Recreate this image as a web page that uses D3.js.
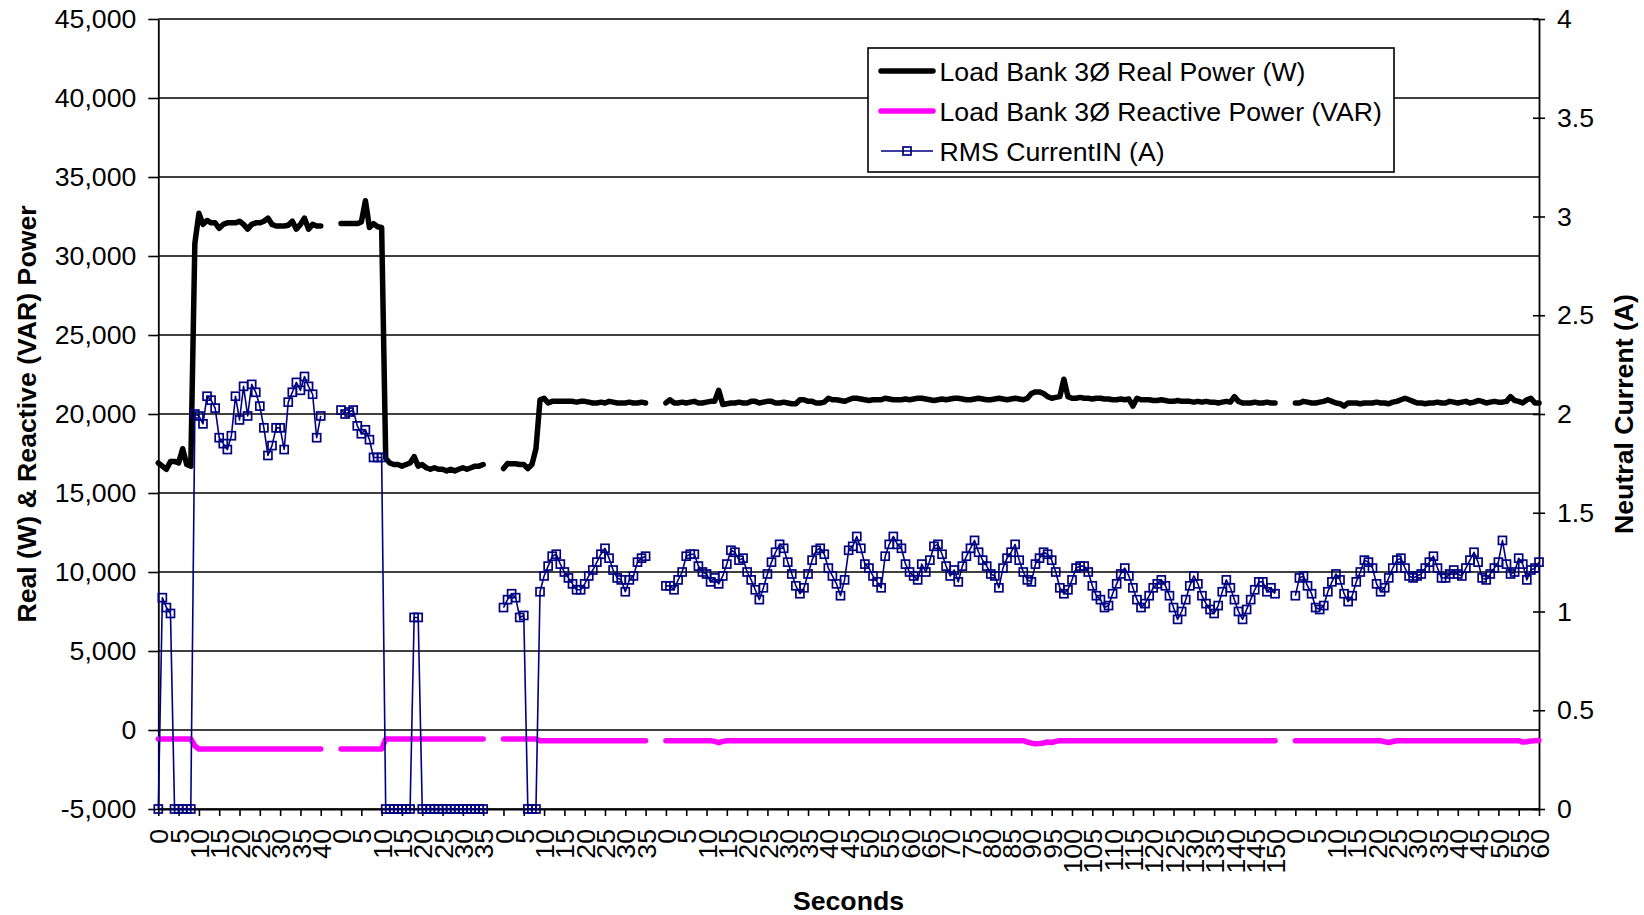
<!DOCTYPE html>
<html>
<head>
<meta charset="utf-8">
<script src="https://cdn.jsdelivr.net/npm/d3@7"></script>
<style>
  body { margin: 0; background: #ffffff; }
  svg { display: block; }
</style>
</head>
<body>
<svg id="chart" width="1644" height="915"></svg>
<script>
// ---------------- DATA ----------------
// Five test runs; seconds counted from 0 inside each run, 4 empty categories between runs
const runLengths = [41, 36, 36, 151, 61];
const gapLength = 4;

const tickLabels = ["0","5","10","15","20","25","30","35","40",
  "0","5","10","15","20","25","30","35",
  "0","5","10","15","20","25","30","35",
  "0","5","10","15","20","25","30","35","40","45","50","55","60","65","70","75","80","85","90","95","100","105","110","115","120","125","130","135","140","145","150",
  "0","5","10","15","20","25","30","35","40","45","50","55","60"];

const leftTicks = [-5000, 0, 5000, 10000, 15000, 20000, 25000, 30000, 35000, 40000, 45000];
const rightTicks = [0, 0.5, 1, 1.5, 2, 2.5, 3, 3.5, 4];

const seriesNames = ["Load Bank 3\u00D8 Real Power (W)", "Load Bank 3\u00D8 Reactive Power (VAR)", "RMS CurrentIN (A)"];

// Load Bank 3Ø Real Power (W)
const realPowerRun1 = [16900,16700,16500,17000,17000,16900,17800,16800,16700,30800,
  32700,32000,32250,32100,32100,31750,32000,32100,32100,32100,
  32200,32000,31700,32000,32100,32100,32200,32400,32000,31900,
  31900,31900,31950,32200,31700,32000,32400,31700,32000,31900,
  31900];
const realPowerRun2 = [32050,32050,32050,32050,32050,32150,33500,31800,32050,31850,
  31800,17200,16900,16800,16800,16700,16800,16900,17300,16700,
  16800,16600,16500,16600,16500,16500,16400,16500,16400,16500,
  16600,16500,16600,16700,16700,16800];
const realPowerRun3 = [16550,16870,16850,16850,16800,16800,16550,16800,17800,20900,
  21000,20700,20800,20800,20800,20800,20800,20800,20750,20800,
  20800,20750,20700,20700,20750,20700,20800,20750,20700,20700,
  20700,20750,20700,20700,20750,20700];
const realPowerRun4 = [20700,20900,20700,20700,20750,20700,20750,20800,20700,20700,
  20750,20800,20800,21500,20600,20650,20700,20700,20750,20700,
  20700,20800,20800,20700,20750,20800,20800,20700,20700,20750,
  20700,20650,20650,20900,20900,20800,20800,20700,20700,20750,
  21000,20900,20900,20850,20800,20900,21000,21000,20950,20900,
  20850,20900,20900,20900,21000,20950,20900,20900,20900,20950,
  20900,20950,21000,21000,20950,20900,20850,20900,20950,20900,
  20950,21000,21000,20950,20900,20900,20950,21000,20950,20900,
  20900,20950,21000,20950,20900,20950,21000,20950,20900,21000,
  21300,21400,21400,21300,21100,21000,21050,21100,22200,21100,
  21000,21000,21050,21000,21000,20950,21000,21000,20950,20950,
  20900,20900,20950,20900,20950,20500,21000,20900,20900,20900,
  20850,20850,20900,20850,20800,20800,20850,20800,20800,20800,
  20750,20800,20750,20800,20750,20750,20700,20750,20800,20750,
  21100,20800,20700,20700,20700,20750,20700,20700,20750,20700,
  20700];
const realPowerRun5 = [20700,20700,20800,20750,20700,20700,20750,20800,20900,20800,
  20700,20650,20500,20700,20700,20700,20650,20700,20700,20700,
  20750,20700,20700,20650,20750,20800,20900,21000,20900,20800,
  20700,20700,20650,20700,20700,20750,20700,20700,20800,20750,
  20700,20750,20800,20700,20750,20850,20800,20700,20750,20800,
  20750,20750,20800,21100,20850,20800,20700,20900,21000,20700,
  20700];

// Load Bank 3Ø Reactive Power (VAR)
const reactivePowerRun1 = [-570,-570,-570,-570,-570,-570,-570,-570,-570,-1000,
  -1200,-1200,-1200,-1200,-1200,-1200,-1200,-1200,-1200,-1200,
  -1200,-1200,-1200,-1200,-1200,-1200,-1200,-1200,-1200,-1200,
  -1200,-1200,-1200,-1200,-1200,-1200,-1200,-1200,-1200,-1200,
  -1200];
const reactivePowerRun2 = [-1200,-1200,-1200,-1200,-1200,-1200,-1200,-1200,-1200,-1200,
  -1200,-570,-570,-570,-570,-570,-570,-570,-570,-570,
  -570,-570,-570,-570,-570,-570,-570,-570,-570,-570,
  -570,-570,-570,-570,-570,-570];
const reactivePowerRun3 = [-570,-570,-570,-570,-570,-570,-570,-570,-570,-680,
  -680,-680,-680,-680,-680,-680,-680,-680,-680,-680,
  -680,-680,-680,-680,-680,-680,-680,-680,-680,-680,
  -680,-680,-680,-680,-680,-680];
const reactivePowerRun4 = [-680,-680,-680,-680,-680,-680,-680,-680,-680,-680,
  -680,-680,-720,-800,-720,-680,-680,-680,-680,-680,
  -680,-680,-680,-680,-680,-680,-680,-680,-680,-680,
  -680,-680,-680,-680,-680,-680,-680,-680,-680,-680,
  -680,-680,-680,-680,-680,-680,-680,-680,-680,-680,
  -680,-680,-680,-680,-680,-680,-680,-680,-680,-680,
  -680,-680,-680,-680,-680,-680,-680,-680,-680,-680,
  -680,-680,-680,-680,-680,-680,-680,-680,-680,-680,
  -680,-680,-680,-680,-680,-680,-680,-680,-680,-760,
  -830,-870,-860,-820,-760,-790,-720,-680,-680,-680,
  -680,-680,-680,-680,-680,-680,-680,-680,-680,-680,
  -680,-680,-680,-680,-680,-680,-680,-680,-680,-680,
  -680,-680,-680,-680,-680,-680,-680,-680,-680,-680,
  -680,-680,-680,-680,-680,-680,-680,-680,-680,-680,
  -680,-680,-680,-680,-680,-680,-680,-680,-680,-680,
  -680];
const reactivePowerRun5 = [-680,-680,-680,-680,-680,-680,-680,-680,-680,-680,
  -680,-680,-680,-680,-680,-680,-680,-680,-680,-680,
  -680,-680,-740,-790,-730,-680,-680,-680,-680,-680,
  -680,-680,-680,-680,-680,-680,-680,-680,-680,-680,
  -680,-680,-680,-680,-680,-680,-680,-680,-680,-680,
  -680,-680,-680,-680,-680,-680,-760,-740,-690,-680,
  -660];

// RMS CurrentIN (A) — secondary axis
const currentRun1 = [0,1.07,1.02,0.99,0,0,0,0,0,2.00,
  1.99,1.95,2.09,2.07,2.03,1.88,1.85,1.82,1.89,2.09,
  1.97,2.14,1.99,2.15,2.11,2.04,1.93,1.79,1.84,1.93,
  1.93,1.82,2.06,2.11,2.16,2.12,2.19,2.14,2.10,1.88,
  1.99];
const currentRun2 = [2.02,2.00,2.01,2.02,1.94,1.90,1.92,1.87,1.78,1.78,
  1.78,0,0,0,0,0,0,0,0.97,0.97,
  0,0,0,0,0,0,0,0,0,0,
  0,0,0,0,0,0];
const currentRun3 = [1.02,1.06,1.09,1.07,0.97,0.98,0,0,0,1.10,
  1.18,1.23,1.28,1.29,1.24,1.20,1.17,1.14,1.11,1.11,
  1.14,1.18,1.21,1.25,1.29,1.32,1.27,1.21,1.17,1.16,
  1.10,1.16,1.18,1.25,1.27,1.28];
const currentRun4 = [1.13,1.13,1.11,1.16,1.20,1.28,1.29,1.29,1.23,1.20,
  1.19,1.15,1.17,1.14,1.18,1.24,1.31,1.30,1.26,1.27,
  1.20,1.16,1.11,1.06,1.12,1.19,1.25,1.30,1.34,1.32,
  1.25,1.19,1.13,1.09,1.12,1.19,1.26,1.31,1.32,1.29,
  1.22,1.18,1.14,1.08,1.16,1.31,1.33,1.38,1.32,1.24,
  1.22,1.18,1.15,1.12,1.28,1.34,1.38,1.34,1.32,1.24,
  1.20,1.18,1.16,1.24,1.20,1.26,1.33,1.34,1.29,1.23,
  1.18,1.21,1.15,1.23,1.28,1.32,1.36,1.30,1.26,1.23,
  1.19,1.18,1.12,1.22,1.27,1.30,1.34,1.26,1.20,1.16,
  1.15,1.24,1.27,1.30,1.29,1.26,1.20,1.12,1.09,1.11,
  1.16,1.22,1.23,1.23,1.20,1.13,1.08,1.06,1.02,1.03,
  1.09,1.14,1.19,1.22,1.18,1.12,1.06,1.02,1.04,1.08,
  1.12,1.14,1.16,1.13,1.08,1.02,0.96,1.00,1.06,1.13,
  1.18,1.14,1.08,1.04,1.01,0.99,1.03,1.10,1.16,1.12,
  1.06,1.00,0.96,1.01,1.06,1.11,1.15,1.15,1.10,1.12,
  1.09];
const currentRun5 = [1.08,1.17,1.18,1.13,1.09,1.02,1.01,1.03,1.10,1.15,
  1.19,1.16,1.09,1.05,1.08,1.15,1.20,1.26,1.25,1.22,
  1.14,1.10,1.12,1.17,1.22,1.26,1.27,1.22,1.18,1.17,
  1.18,1.19,1.22,1.25,1.28,1.22,1.17,1.17,1.19,1.21,
  1.19,1.18,1.22,1.26,1.30,1.25,1.17,1.16,1.19,1.22,
  1.25,1.36,1.24,1.19,1.20,1.27,1.24,1.16,1.21,1.22,
  1.25];

const realPowerRuns = [realPowerRun1, realPowerRun2, realPowerRun3, realPowerRun4, realPowerRun5];
const reactivePowerRuns = [reactivePowerRun1, reactivePowerRun2, reactivePowerRun3, reactivePowerRun4, reactivePowerRun5];
const currentRuns = [currentRun1, currentRun2, currentRun3, currentRun4, currentRun5];

// ---------------- BUILD ----------------
const FONT = '"Liberation Sans", Arial, Helvetica, sans-serif';
const FS = 26.67;
const plot = { left: 158.3, right: 1539, top: 19, bottom: 809 };
const MK = 8;

const categories = [];
runLengths.forEach((n, r) => {
  for (let s = 0; s < n; s++) categories.push({ run: r, second: s });
  if (r < runLengths.length - 1) for (let g = 0; g < gapLength; g++) categories.push({ run: r, second: null });
});
function flatten(runs) {
  const out = [];
  runs.forEach((vals, r) => {
    vals.forEach(v => out.push(v));
    if (r < runs.length - 1) for (let g = 0; g < gapLength; g++) out.push(null);
  });
  return out.map((v, i) => ({ i, v }));
}
const realData = flatten(realPowerRuns);
const reactiveData = flatten(reactivePowerRuns);
const currentData = flatten(currentRuns);

const svg = d3.select("#chart");
svg.append("rect").attr("width", 1644).attr("height", 915).attr("fill", "#fff");

const x = d3.scalePoint().domain(d3.range(categories.length)).range([plot.left, plot.right]);
const yL = d3.scaleLinear().domain([-5000, 45000]).range([plot.bottom, plot.top]);
const yR = d3.scaleLinear().domain([0, 4]).range([plot.bottom, plot.top]);

// gridlines
svg.append("g").selectAll("line").data(leftTicks).join("line")
  .attr("x1", plot.left).attr("x2", plot.right)
  .attr("y1", d => yL(d)).attr("y2", d => yL(d))
  .attr("stroke", "#000").attr("stroke-width", 1.6);

function styleAxis(g) {
  g.attr("font-family", FONT).attr("font-size", FS);
  g.selectAll(".tick line").attr("stroke", "#000").attr("stroke-width", 1.6);
  g.selectAll(".tick text").attr("fill", "#000");
  g.select(".domain").attr("stroke", "#000").attr("stroke-width", 1.8);
}

// left axis
const fmtL = d => d3.format(",")(d).replace("\u2212", "-");
const axL = svg.append("g").attr("transform", `translate(${plot.left},0)`)
  .call(d3.axisLeft(yL).tickValues(leftTicks).tickFormat(fmtL).tickSizeInner(10).tickSizeOuter(0).tickPadding(12));
styleAxis(axL);

// right axis (cross ticks)
const axR = svg.append("g").attr("transform", `translate(${plot.right},0)`)
  .call(d3.axisRight(yR).tickValues(rightTicks).tickFormat(d => String(d)).tickSizeInner(6).tickSizeOuter(0).tickPadding(12));
styleAxis(axR);
axR.selectAll(".tick").append("line").attr("x1", -6).attr("x2", 0).attr("stroke", "#000").attr("stroke-width", 1.6);

// bottom axis
const tickIdx = d3.range(0, categories.length, 5);
const axB = svg.append("g").attr("transform", `translate(0,${plot.bottom})`)
  .call(d3.axisBottom(x).tickValues(tickIdx).tickFormat((d, i) => tickLabels[i]).tickSizeInner(7).tickSizeOuter(0));
styleAxis(axB);
axB.selectAll(".tick text")
  .attr("transform", "rotate(-90)")
  .attr("x", -20).attr("y", 0).attr("dy", "0.36em")
  .style("text-anchor", "end");

// series lines
const lineL = d3.line().defined(d => d.v != null).x(d => x(d.i)).y(d => yL(d.v));
const lineR = d3.line().defined(d => d.v != null).x(d => x(d.i)).y(d => yR(d.v));

svg.append("path").datum(realData).attr("d", lineL)
  .attr("fill", "none").attr("stroke", "#000").attr("stroke-width", 5.5)
  .attr("stroke-linejoin", "round").attr("stroke-linecap", "round");
svg.append("path").datum(reactiveData).attr("d", lineL)
  .attr("fill", "none").attr("stroke", "#FF00FF").attr("stroke-width", 5.5)
  .attr("stroke-linejoin", "round").attr("stroke-linecap", "round");
svg.append("path").datum(currentData).attr("d", lineR)
  .attr("fill", "none").attr("stroke", "#000080").attr("stroke-width", 1.6)
  .attr("stroke-linejoin", "round");
svg.append("g").selectAll("rect").data(currentData.filter(d => d.v != null)).join("rect")
  .attr("x", d => x(d.i) - MK / 2).attr("y", d => yR(d.v) - MK / 2)
  .attr("width", MK).attr("height", MK)
  .attr("fill", "none").attr("stroke", "#000080").attr("stroke-width", 1.7);

// axis titles
svg.append("text").attr("x", 848.5).attr("y", 909.5).attr("text-anchor", "middle")
  .attr("font-family", FONT).attr("font-size", FS).attr("font-weight", "bold").text("Seconds");
svg.append("text").attr("transform", "translate(35.5,414) rotate(-90)").attr("text-anchor", "middle")
  .attr("font-family", FONT).attr("font-size", FS).attr("font-weight", "bold").text("Real (W) & Reactive (VAR) Power");
svg.append("text").attr("transform", "translate(1632.5,414) rotate(-90)").attr("text-anchor", "middle")
  .attr("font-family", FONT).attr("font-size", FS).attr("font-weight", "bold").text("Neutral Current (A)");

// legend
const lg = svg.append("g");
lg.append("rect").attr("x", 868).attr("y", 48).attr("width", 526).attr("height", 124)
  .attr("fill", "#fff").attr("stroke", "#000").attr("stroke-width", 1.6);
const rowsY = [71, 111, 151];
const legendStyles = [
  { color: "#000", width: 5.5, marker: false },
  { color: "#FF00FF", width: 5.5, marker: false },
  { color: "#000080", width: 1.6, marker: true }
];
seriesNames.forEach((name, k) => {
  const st = legendStyles[k];
  lg.append("line").attr("x1", 881).attr("x2", 933).attr("y1", rowsY[k]).attr("y2", rowsY[k])
    .attr("stroke", st.color).attr("stroke-width", st.width).attr("stroke-linecap", st.marker ? "butt" : "round");
  if (st.marker) lg.append("rect").attr("x", 907 - MK / 2).attr("y", rowsY[k] - MK / 2).attr("width", MK).attr("height", MK)
    .attr("fill", "none").attr("stroke", st.color).attr("stroke-width", 1.7);
  lg.append("text").attr("x", 939.5).attr("y", rowsY[k]).attr("dy", "0.36em")
    .attr("font-family", FONT).attr("font-size", FS).text(name);
});
</script>
</body>
</html>
